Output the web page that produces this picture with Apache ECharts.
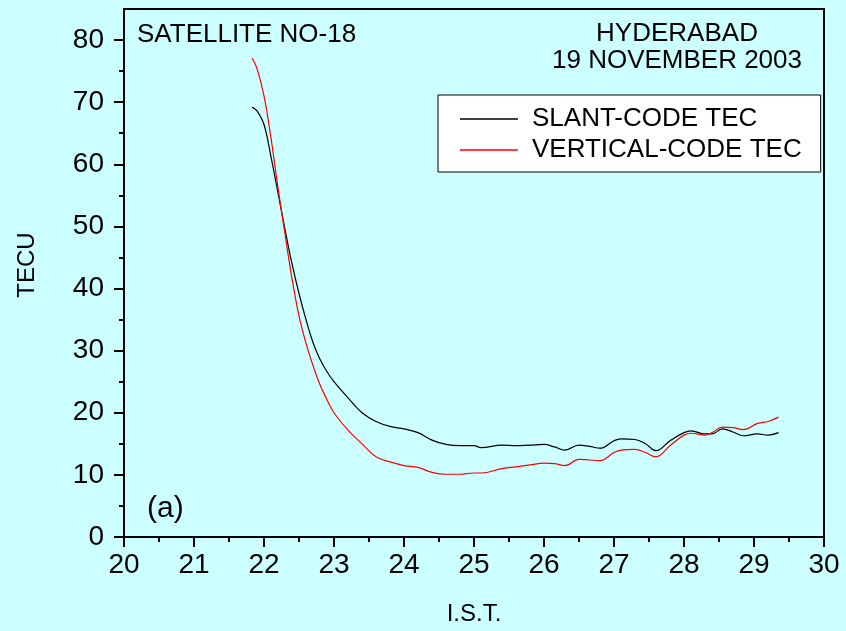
<!DOCTYPE html>
<html>
<head>
<meta charset="UTF-8">
<title>TEC Hyderabad</title>
<script type="text/javascript" src="https://cdn.jsdelivr.net/npm/echarts@6/dist/echarts.min.js"></script>
<style>
html, body { margin: 0; padding: 0; background: #ccffff; }
</style>
</head>
<body>
	<div id="div1" style="width:846px;height:631px"></div>
	<script type="text/javascript">
	// time (IST hours) and the two TEC curves
	var istHours = [21.83, 21.9, 22.0, 22.1, 22.2, 22.3, 22.4, 22.5, 22.6, 22.7,
		22.8, 22.9, 23.0, 23.2, 23.4, 23.6, 23.8, 24.0, 24.2, 24.4,
		24.6, 24.8, 25.0, 25.1, 25.4, 25.6, 25.8, 26.0, 26.15, 26.3,
		26.5, 26.65, 26.8, 27.0, 27.1, 27.3, 27.45, 27.6, 27.8, 28.0,
		28.1, 28.3, 28.4, 28.55, 28.7, 28.85, 29.05, 29.2, 29.35];
	var slantTec = [69.2, 68.6, 66.4, 61.2, 55.4, 49.5, 44.0, 39.2, 35.0, 31.3,
		28.6, 26.6, 25.0, 22.4, 20.0, 18.6, 17.8, 17.4, 16.8, 15.6,
		14.9, 14.7, 14.7, 14.4, 14.8, 14.7, 14.8, 14.9, 14.5, 14.0,
		14.8, 14.6, 14.3, 15.5, 15.8, 15.7, 15.0, 13.9, 15.5, 16.8,
		17.1, 16.6, 16.6, 17.4, 16.9, 16.3, 16.6, 16.4, 16.8];
	var verticalTec = [77.1, 75.4, 71.0, 64.2, 56.2, 48.8, 41.6, 35.6, 31.2, 27.6,
		24.5, 22.1, 20.0, 17.2, 15.0, 12.9, 12.1, 11.5, 11.2, 10.4,
		10.1, 10.1, 10.3, 10.3, 11.0, 11.3, 11.6, 11.9, 11.8, 11.5,
		12.5, 12.4, 12.3, 13.6, 14.0, 14.1, 13.6, 12.9, 14.7, 16.4,
		16.7, 16.4, 16.8, 17.7, 17.6, 17.3, 18.3, 18.6, 19.3];
	var yMajor = [0, 10, 20, 30, 40, 50, 60, 70, 80];
	var yMinor = [5, 15, 25, 35, 45, 55, 65, 75];

	var font = 'Liberation Sans, Arial, sans-serif';

	var pairs = function (xs, ys) {
		var res = [];
		for (var i = 0; i < xs.length; i++) {
			res.push([xs[i], ys[i]]);
		}
		return res;
	};

	var myChart = echarts.init(document.getElementById('div1'));
	var option = {
		animation: false,
		backgroundColor: '#ccffff',
		textStyle: { fontFamily: font },
		grid: {
			left: 124, right: 22, top: 9, bottom: 93,
			show: true, borderColor: '#000', borderWidth: 2,
			backgroundColor: 'transparent'
		},
		legend: {
			orient: 'vertical',
			left: 438, top: 95,
			backgroundColor: '#fff',
			borderColor: '#000', borderWidth: 1,
			padding: [11, 19, 9, 22],
			itemGap: 5,
			itemWidth: 58, itemHeight: 1.5,
			icon: 'rect',
			textStyle: { fontSize: 26, color: '#000', fontFamily: font, lineHeight: 24, padding: [0, 0, 0, 9] },
			data: ['SLANT-CODE TEC', 'VERTICAL-CODE TEC']
		},
		xAxis: {
			type: 'value',
			min: 20, max: 30, interval: 1,
			name: 'I.S.T.', nameLocation: 'middle', nameGap: 65,
			nameTextStyle: { fontSize: 24, color: '#000', fontFamily: font },
			axisLine: { lineStyle: { color: '#000', width: 2 } },
			axisTick: { length: 10, lineStyle: { color: '#000', width: 2 } },
			minorTick: { show: true, splitNumber: 2, length: 5, lineStyle: { color: '#000', width: 2 } },
			axisLabel: { fontSize: 28, color: '#000', margin: 14, fontFamily: font },
			splitLine: { show: false }
		},
		yAxis: [{
			type: 'value',
			min: 0, max: 85, interval: 5,
			name: 'TECU', nameLocation: 'middle', nameGap: 85, nameRotate: 90,
			nameTextStyle: { fontSize: 24, color: '#000', fontFamily: font, padding: [0, 0, 0, 16] },
			axisLine: { show: true, lineStyle: { color: '#000', width: 2 } },
			axisTick: { length: 10, customValues: yMajor, lineStyle: { color: '#000', width: 2 } },
			axisLabel: { fontSize: 28, color: '#000', margin: 20, customValues: yMajor, fontFamily: font },
			splitLine: { show: false }
		}, {
			type: 'value',
			position: 'left',
			min: 0, max: 85, interval: 5,
			axisLine: { show: false },
			axisTick: { show: true, length: 5, customValues: yMinor, lineStyle: { color: '#000', width: 2 } },
			axisLabel: { show: false },
			splitLine: { show: false }
		}],
		graphic: [
			{ type: 'text', x: 137, y: 22, style: { text: 'SATELLITE NO-18', font: '26px ' + font, fill: '#000' } },
			{ type: 'text', x: 677, y: 21, style: { text: 'HYDERABAD', font: '26px ' + font, fill: '#000', align: 'center' } },
			{ type: 'text', x: 677, y: 48, style: { text: '19 NOVEMBER 2003', font: '26px ' + font, fill: '#000', align: 'center' } },
			{ type: 'text', x: 147, y: 494, style: { text: '(a)', font: '30px ' + font, fill: '#000' } }
		],
		series: [{
			name: 'SLANT-CODE TEC',
			type: 'line',
			data: pairs(istHours, slantTec),
			symbol: 'none',
			smooth: 0.4,
			color: '#000',
			lineStyle: { color: '#000', width: 1.2 }
		}, {
			name: 'VERTICAL-CODE TEC',
			type: 'line',
			data: pairs(istHours, verticalTec),
			symbol: 'none',
			smooth: 0.4,
			color: '#ff0000',
			lineStyle: { color: '#ff0000', width: 1.2 }
		}]
	};
	myChart.setOption(option);
	</script>
</body>
</html>
